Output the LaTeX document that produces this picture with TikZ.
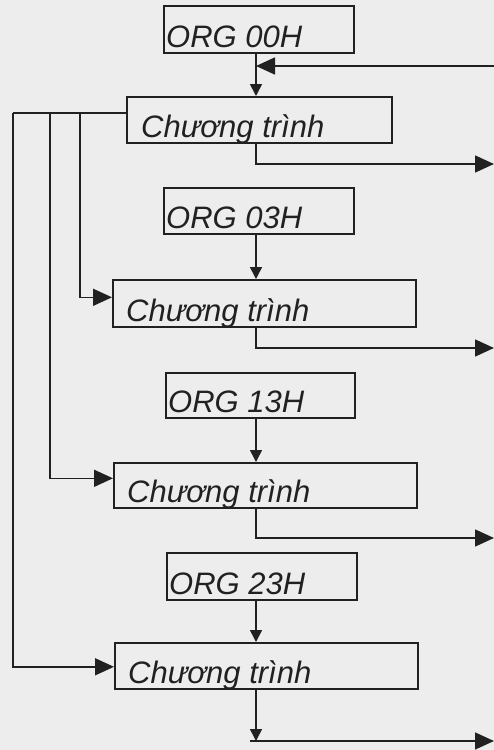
\documentclass[tikz,border=0pt]{standalone}
\usepackage{fontspec}
\setmainfont{Liberation Sans}
\usetikzlibrary{arrows.meta,calc}
\definecolor{paper}{gray}{0.93}
\definecolor{ink}{gray}{0.13}
\begin{document}
\begin{tikzpicture}[x=1pt,y=-1pt,
  box/.style={draw=ink,line width=1.6pt,inner sep=0pt,anchor=north west},
  lbl/.style={inner sep=0pt,anchor=base west,text=ink,
    font=\fontsize{31}{34}\selectfont\itshape},
  wire/.style={draw=ink,line width=1.6pt},
  bigarrow/.style={wire,-{Triangle[length=19pt,width=17pt]}},
  downarrow/.style={wire,-{Triangle[length=12pt,width=12pt]}}]
\useasboundingbox (0,0) rectangle (494,750);
\fill[paper] (0,0) rectangle (494,750);

% common vertical axis of the chain
\coordinate (sp) at (256,0);

% ORG directives and program blocks
\node[box,minimum width=190pt,minimum height=47pt] (o0) at (163,5) {};
\node[box,minimum width=265pt,minimum height=46pt] (c1) at (126,96) {};
\node[box,minimum width=190pt,minimum height=46pt] (o1) at (163,187) {};
\node[box,minimum width=303pt,minimum height=47pt] (c2) at (112,279) {};
\node[box,minimum width=189pt,minimum height=45pt] (o2) at (165,372) {};
\node[box,minimum width=303pt,minimum height=45pt] (c3) at (113,462) {};
\node[box,minimum width=190pt,minimum height=47pt] (o3) at (166,552) {};
\node[box,minimum width=303pt,minimum height=46pt] (c4) at (114,642) {};

\node[lbl] (o0t) at ($(o0.south west)+(3,-6)$) {ORG 00H};
\node[lbl] (o1t) at ($(o1.south west)+(3,-6)$) {ORG 03H};
\node[lbl] (o2t) at ($(o2.south west)+(3,-6)$) {ORG 13H};
\node[lbl] (o3t) at ($(o3.south west)+(3,-6)$) {ORG 23H};
\node[lbl] (c1t) at ($(c1.south west)+(15,-6)$) {Chương trình};
\node[lbl] (c2t) at ($(c2.south west)+(14,-6)$) {Chương trình};
\node[lbl] (c3t) at ($(c3.south west)+(14,-6)$) {Chương trình};
\node[lbl] (c4t) at ($(c4.south west)+(14,-6)$) {Chương trình};

% ORG -> program
\draw[downarrow] (o0.south -| sp) -- (c1.north -| sp);
\draw[downarrow] (o1.south -| sp) -- (c2.north -| sp);
\draw[downarrow] (o2.south -| sp) -- (c3.north -| sp);
\draw[downarrow] (o3.south -| sp) -- (c4.north -| sp);

% return into the first block
\coordinate (r0) at (494,66);
\draw[bigarrow] (r0) -- (sp |- r0);

% exits to the right
\coordinate (e1) at (494,164);
\coordinate (e2) at (494,348);
\coordinate (e3) at (494,538);
\coordinate (e4) at (494,741);
\coordinate (e4s) at (250,741);
\draw[bigarrow] (c1.south -| sp) |- (e1);
\draw[bigarrow] (c2.south -| sp) |- (e2);
\draw[bigarrow] (c3.south -| sp) |- (e3);
\draw[downarrow] (c4.south -| sp) -- (sp |- e4);
\draw[bigarrow] (e4s) -- (e4);

% jumps from the first block to the others
\coordinate (t1) at ($(c1.west)+(0,-7)$);
\coordinate (j1) at (80,0);
\coordinate (j2) at (50,0);
\coordinate (j3) at (13,0);
\draw[wire] (t1) -- (j3 |- t1);
\draw[bigarrow] (j1 |- t1) |- ($(c2.west)+(0,-6)$);
\draw[bigarrow] (j2 |- t1) |- ($(c3.west)+(0,-7)$);
\draw[bigarrow] (j3 |- t1) |- ($(c4.west)+(0,1)$);
\end{tikzpicture}
\end{document}
